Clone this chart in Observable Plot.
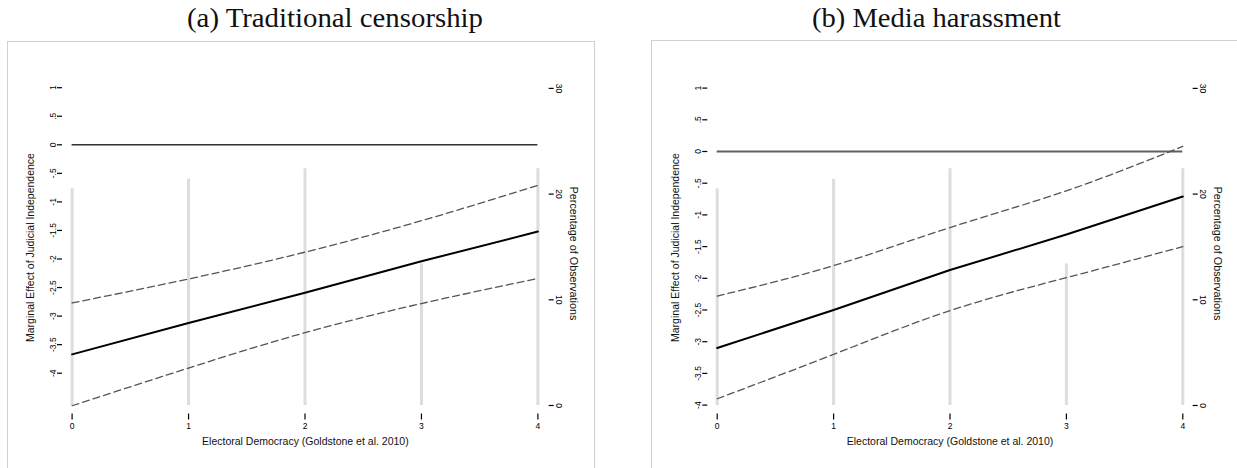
<!DOCTYPE html>
<html><head><meta charset="utf-8">
<script src="https://cdn.jsdelivr.net/npm/d3@7"></script>
<script src="https://cdn.jsdelivr.net/npm/@observablehq/plot@0.6"></script>
<style>
html,body{margin:0;padding:0;background:#fff;}
#wrap{position:relative;width:1237px;height:468px;overflow:hidden;}
.box{position:absolute;border:1px solid #d0d0d0;box-sizing:border-box;}
.title{position:absolute;font-family:"Liberation Serif","Times New Roman",serif;font-size:27px;line-height:27px;color:#111;white-space:nowrap;transform-origin:0 0;}
#wrap svg{position:absolute;left:0;top:0;}
</style></head><body>
<div id="wrap">
  <div class="box" style="left:7px;top:41px;width:588px;height:440px"></div>
  <div class="box" style="left:651px;top:40px;width:600px;height:440px"></div>
  <div class="title" id="t0"></div>
  <div class="title" id="t1"></div>
</div>
<script>
// ---- data ----
const panelTitles = ["(a) Traditional censorship", "(b) Media harassment"];
const xVals = [0, 1, 2, 3, 4];
const pctObs = [20.5, 21.4, 22.4, 13.4, 22.4];
const censorEst = [-3.67, -3.12, -2.59, -2.04, -1.52];
const censorUpper = [-2.77, -2.35, -1.88, -1.33, -0.71];
const censorLower = [-4.57, -3.91, -3.29, -2.78, -2.34];
const harassEst = [-3.10, -2.50, -1.87, -1.31, -0.71];
const harassUpper = [-2.28, -1.80, -1.20, -0.62, 0.08];
const harassLower = [-3.90, -3.20, -2.51, -1.99, -1.50];
const effectTicks = [1, 0.5, 0, -0.5, -1, -1.5, -2, -2.5, -3, -3.5, -4];
const effectTickLabels = ["1", ".5", "0", "-.5", "-1", "-1.5", "-2", "-2.5", "-3", "-3.5", "-4"];
const pctTicks = [0, 10, 20, 30];
const pctTickLabels = ["0", "10", "20", "30"];
const xTicks = [0, 1, 2, 3, 4];
const xTickLabels = ["0", "1", "2", "3", "4"];
const xTitle = "Electoral Democracy (Goldstone et al. 2010)";
const yTitle = "Marginal Effect of Judicial Independence";
const y2Title = "Percentage of Observations";

// ---- layout ----
const W = 1237, H = 468;
const panels = [
  {est: censorEst, upper: censorUpper, lower: censorLower,
   frameL: 62, frameR: 547.7, xRange: [71.6, 537.4], yRange: [372.7, 87.2],
   zeroColor: "#333", zeroWidth: 1.5, titleX: 187, titleW: 296},
  {est: harassEst, upper: harassUpper, lower: harassLower,
   frameL: 707.3, frameR: 1191.7, xRange: [716.7, 1182.3], yRange: [404.6, 87.6],
   zeroColor: "#606060", zeroWidth: 1.8, titleX: 812, titleW: 249}
];
const effFmt = new Map(effectTicks.map((t, i) => [t, effectTickLabels[i]]));
const pctFmt = new Map(pctTicks.map((t, i) => [t, pctTickLabels[i]]));
const xFmt = new Map(xTicks.map((t, i) => [t, xTickLabels[i]]));
const font = "'Liberation Sans', Arial, Helvetica, sans-serif";
const wrap = document.getElementById("wrap");

panels.forEach((p, k) => {
  const common = {
    width: W, height: H,
    marginLeft: p.frameL, marginRight: W - p.frameR,
    marginTop: 86.5, marginBottom: H - 413.5,
    style: {background: "transparent", fontFamily: font, fontSize: "8.5px", color: "#000", overflow: "visible"}
  };
  const hist = xVals.map((x, i) => ({x, pct: pctObs[i]}));
  const bars = Plot.plot({
    ...common,
    x: {domain: [0, 4], range: p.xRange, axis: null},
    y: {domain: [0, 30], range: [405, 87.9]},
    marks: [
      Plot.ruleX(hist, {x: "x", y1: 0, y2: "pct", stroke: "#dddddd", strokeWidth: 3}),
      Plot.axisY({anchor: "right", ticks: pctTicks, tickFormat: d => pctFmt.get(d), tickSize: 5, tickPadding: 2.5, tickRotate: 90, lineAnchor: "bottom", textAnchor: "middle", label: null, strokeWidth: 1.2}),
      Plot.text([y2Title], {frameAnchor: "right", rotate: 90, dx: 25, dy: 3, textAnchor: "middle", fontSize: 10.8, fill: "#111"})
    ]
  });
  const est = xVals.map((x, i) => ({x, y: p.est[i]}));
  const up = xVals.map((x, i) => ({x, y: p.upper[i]}));
  const lo = xVals.map((x, i) => ({x, y: p.lower[i]}));
  const lines = Plot.plot({
    ...common,
    x: {domain: [0, 4], range: p.xRange},
    y: {domain: [-4, 1], range: p.yRange},
    marks: [
      Plot.ruleY([0], {x1: 0, x2: 4, stroke: p.zeroColor, strokeWidth: p.zeroWidth}),
      Plot.line(up, {x: "x", y: "y", stroke: "#555", strokeWidth: 1.3, strokeDasharray: "7,4", curve: "natural"}),
      Plot.line(lo, {x: "x", y: "y", stroke: "#555", strokeWidth: 1.3, strokeDasharray: "7,4", curve: "natural"}),
      Plot.line(est, {x: "x", y: "y", stroke: "#000", strokeWidth: 2}),
      Plot.axisY({anchor: "left", ticks: effectTicks, tickFormat: d => effFmt.get(d), tickSize: 5, tickPadding: 2, tickRotate: -90, label: null, strokeWidth: 1.2}),
      Plot.axisX({anchor: "bottom", ticks: xTicks, tickFormat: d => xFmt.get(d), tickSize: 6, tickPadding: 3, label: null, strokeWidth: 1.2}),
      Plot.text([yTitle], {frameAnchor: "left", rotate: -90, dx: -32, dy: -3, textAnchor: "middle", fontSize: 10.5, fill: "#111"}),
      Plot.text([xTitle], {frameAnchor: "bottom", dy: 31, textAnchor: "middle", fontSize: 10.5, fill: "#111"})
    ]
  });
  wrap.appendChild(bars);
  wrap.appendChild(lines);

  const t = document.getElementById("t" + k);
  t.textContent = panelTitles[k];
  t.style.left = p.titleX + "px";
  t.style.top = "5px";
  const w = t.getBoundingClientRect().width;
  t.style.transform = `scaleX(${p.titleW / w})`;
});
</script>
</body></html>
